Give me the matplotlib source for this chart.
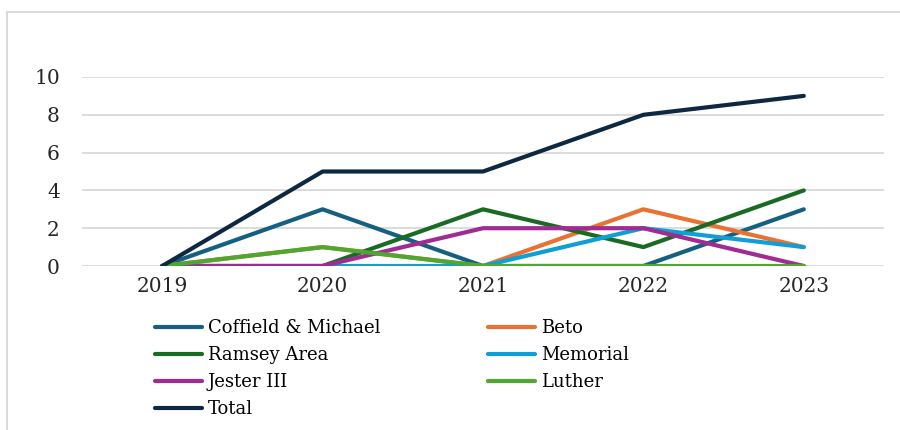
import matplotlib.pyplot as plt
from matplotlib.lines import Line2D

years = ['2019', '2020', '2021', '2022', '2023']
coffield = [0, 3, 0, 0, 3]
beto = [0, 1, 0, 3, 1]
ramsey = [0, 0, 3, 1, 4]
memorial = [0, 0, 0, 2, 1]
jester = [0, 0, 2, 2, 0]
luther = [0, 1, 0, 0, 0]
total = [0, 5, 5, 8, 9]

series = [
    ('Coffield & Michael', coffield, '#156082'),
    ('Beto', beto, '#E97132'),
    ('Ramsey Area', ramsey, '#196B24'),
    ('Memorial', memorial, '#0F9ED5'),
    ('Jester III', jester, '#A02B93'),
    ('Luther', luther, '#4EA72E'),
    ('Total', total, '#0E2841'),
]

plt.rcParams['font.family'] = ['DejaVu Serif']

fig = plt.figure(figsize=(9, 4.3), dpi=100)
ax = fig.add_axes([82 / 900, 1 - 266 / 430, (884 - 82) / 900, (266 - 77) / 430])

x = list(range(len(years)))
handles = {}
for name, vals, col in series:
    ln, = ax.plot(x, vals, color=col, lw=3, solid_capstyle='round', label=name)
    handles[name] = ln

ax.set_xlim(-0.5, len(years) - 0.5)
ax.set_ylim(0, 10)
ax.set_yticks(range(0, 11, 2))
ax.set_xticks(x)
ax.set_xticklabels(years)
ax.grid(axis='y', color='#D9D9D9', lw=1.3)
ax.set_axisbelow(True)
for s in ax.spines.values():
    s.set_visible(False)
ax.tick_params(length=0, labelsize=14.5, colors='#262626')
ax.tick_params(axis='y', pad=16)
ax.tick_params(axis='x', pad=8)

# legend, column-first order so the rows read like the original
order = ['Coffield & Michael', 'Ramsey Area', 'Jester III', 'Total',
         'Beto', 'Memorial', 'Luther']
fig.legend([handles[n] for n in order], order, ncol=2, frameon=False,
           loc='upper left', bbox_to_anchor=(148 / 900, 1 - 312 / 430),
           fontsize=13, handlelength=2.6, handletextpad=0.3,
           labelspacing=0.5, columnspacing=6.0, borderaxespad=0)

# light border of the chart area: only left and top edges are in view
top = 1 - 12 / 430
left = 7 / 900
fig.add_artist(Line2D([left, left], [0, top], transform=fig.transFigure,
                      color='#D9D9D9', lw=1.5))
fig.add_artist(Line2D([left, 1], [top, top], transform=fig.transFigure,
                      color='#D9D9D9', lw=1.5))

fig.savefig('out.png', dpi=100)
